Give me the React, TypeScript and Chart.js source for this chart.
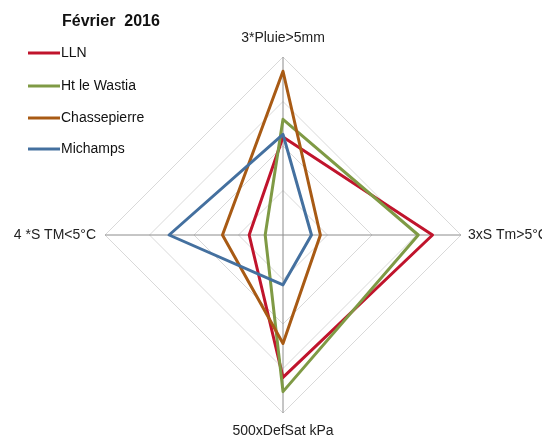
import React, { useEffect, useRef } from "react";
import { Chart, registerables } from "chart.js";

Chart.register(...registerables);

const axisLabels = ["3*Pluie>5mm", "3xS Tm>5°C", "500xDefSat kPa", "4 *S TM<5°C"];
const seriesNames = ["LLN", "Ht le Wastia", "Chassepierre", "Michamps"];
const llnValues = [11, 16.8, 16, 3.8];
const wastiaValues = [13, 15.2, 17.6, 2];
const chassepierreValues = [18.4, 4.2, 12.2, 6.8];
const michampsValues = [11.3, 3.2, 5.6, 12.8];
const seriesColors = ["#C0142C", "#7F9A45", "#A85A14", "#44709F"];
const chartTitle = "Février  2016";

const FONT = "'Liberation Sans', Arial, sans-serif";

const overlayPlugin = {
  id: "overlay",
  afterDraw(chart: any) {
    const ctx = chart.ctx;
    const r = chart.scales.r;
    ctx.save();
    ctx.fillStyle = "#222";
    ctx.font = `14px ${FONT}`;
    ctx.textBaseline = "middle";
    const cx = r.xCenter;
    const cy = r.yCenter;
    const rad = r.drawingArea;
    // top
    ctx.textAlign = "center";
    ctx.fillText(axisLabels[0], cx, cy - rad - 19);
    // right
    ctx.textAlign = "left";
    ctx.fillText(axisLabels[1], cx + rad + 7, cy);
    // bottom
    ctx.textAlign = "center";
    ctx.fillText(axisLabels[2], cx, cy + rad + 18);
    // left
    ctx.textAlign = "right";
    ctx.fillText(axisLabels[3], cx - rad - 9, cy);

    // legend
    ctx.textAlign = "left";
    ctx.font = `bold 16px ${FONT}`;
    ctx.fillStyle = "#111";
    ctx.fillText(chartTitle, 62, 22);
    ctx.font = `14px ${FONT}`;
    const ys = [53, 86, 118, 149];
    seriesNames.forEach((name, i) => {
      ctx.strokeStyle = seriesColors[i];
      ctx.lineWidth = 3;
      ctx.beginPath();
      ctx.moveTo(28, ys[i]);
      ctx.lineTo(60, ys[i]);
      ctx.stroke();
      ctx.fillStyle = "#111";
      ctx.fillText(name, 61, ys[i]);
    });
    ctx.restore();
  },
};

export default function App() {
  const ref = useRef<HTMLCanvasElement>(null);
  useEffect(() => {
    if (!ref.current) return;
    const allValues = [llnValues, wastiaValues, chassepierreValues, michampsValues];
    const chart = new Chart(ref.current, {
      type: "radar",
      data: {
        labels: axisLabels,
        datasets: seriesNames.map((name, i) => ({
          label: name,
          data: allValues[i],
          borderColor: seriesColors[i],
          backgroundColor: "transparent",
          borderWidth: 3,
          fill: false,
          pointRadius: 0,
          order: 3 - i,
        })),
      },
      options: {
        responsive: false,
        animation: false,
        layout: { padding: { left: 105, right: 81, top: 57, bottom: 24 } },
        elements: { line: { tension: 0, borderJoinStyle: "round" } },
        scales: {
          r: {
            min: 0,
            max: 20,
            ticks: { display: false, stepSize: 5 },
            grid: { color: "#D9D9D9", lineWidth: 1 },
            angleLines: { color: "#8C8C8C", lineWidth: 1 },
            pointLabels: { display: false },
          },
        },
        plugins: {
          legend: { display: false },
          tooltip: { enabled: false },
        },
      },
      plugins: [overlayPlugin],
    });
    return () => chart.destroy();
  }, []);
  return (
    <div style={{ position: "fixed", left: 0, top: 0, width: 542, height: 437, background: "#fff" }}>
      <canvas ref={ref} width={542} height={437} style={{ width: 542, height: 437, display: "block" }} />
    </div>
  );
}
